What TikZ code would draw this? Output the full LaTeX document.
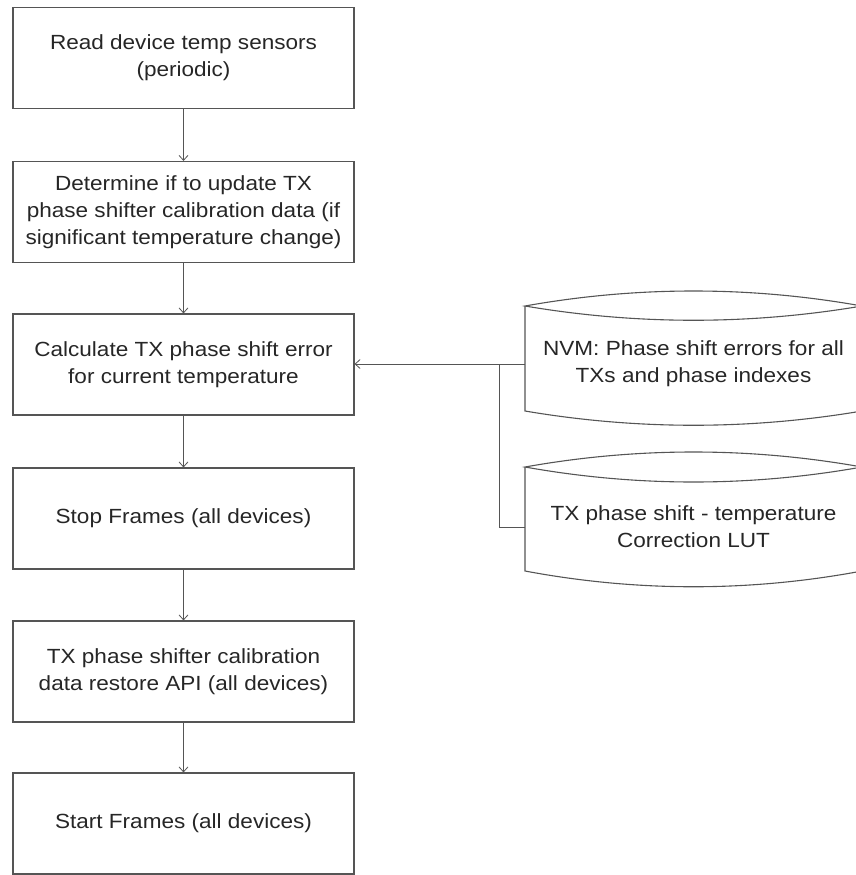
\documentclass[tikz,border=0pt]{standalone}
\usepackage{fontspec}
\setmainfont[FakeStretch=1.1]{Liberation Sans}
\usetikzlibrary{arrows.meta}
\definecolor{ln}{HTML}{555555}
\definecolor{tx}{HTML}{262626}
\begin{document}
\begin{tikzpicture}[x=1pt,y=-1pt,
  every node/.style={font=\fontsize{20.5}{27}\selectfont, text=tx, align=center, inner sep=0pt},
  stepbox/.style={draw=ln, line width=1.1pt, minimum width=341pt, minimum height=101pt},
  cyltext/.style={minimum width=337pt},
  conn/.style={draw=ln, line width=1pt},
  arr/.style={conn, -{Straight Barb[length=5pt,width=9pt,line width=0.8pt]}},
  cylshape/.style={draw=ln, line width=1.1pt}]
\useasboundingbox (0,0) rectangle (856,875);
\node[stepbox] (b1) at (183.5,58) {Read device temp sensors\\(periodic)};
\node[stepbox] (b2) at (183.5,212) {Determine if to update TX\\phase shifter calibration data (if\\significant temperature change)};
\node[stepbox] (b3) at (183.5,364.5) {Calculate TX phase shift error\\for current temperature};
\node[stepbox] (b4) at (183.5,518.5) {Stop Frames (all devices)};
\node[stepbox] (b5) at (183.5,671.5) {TX phase shifter calibration\\data restore API (all devices)};
\node[stepbox] (b6) at (183.5,823.5) {Start Frames (all devices)};
% cylinders
\draw[cylshape] (862,306) .. controls (750,286) and (637,286) .. (525,306)
  .. controls (637,325) and (750,325) .. (862,306)
  (525,306) -- (525,411) .. controls (637,430) and (750,430) .. (862,411);
\node[cyltext] (nvm) at (693.5,364) {NVM: Phase shift errors for all\\TXs and phase indexes};
\draw[cylshape] (862,467) .. controls (750,447) and (637,447) .. (525,467)
  .. controls (637,487) and (750,487) .. (862,467)
  (525,467) -- (525,571) .. controls (637,592) and (750,592) .. (862,571);
\node[cyltext] (lut) at (693.5,527) {TX phase shift - temperature\\Correction LUT};
% connectors
\draw[arr] (b1) -- (b2);
\draw[arr] (b2) -- (b3);
\draw[arr] (b3) -- (b4);
\draw[arr] (b4) -- (b5);
\draw[arr] (b5) -- (b6);
\draw[arr] (nvm.west) -- (b3.east |- nvm.west);
\coordinate (j) at (499,364);
\draw[conn] (lut.west) -| (j);
\end{tikzpicture}
\end{document}
